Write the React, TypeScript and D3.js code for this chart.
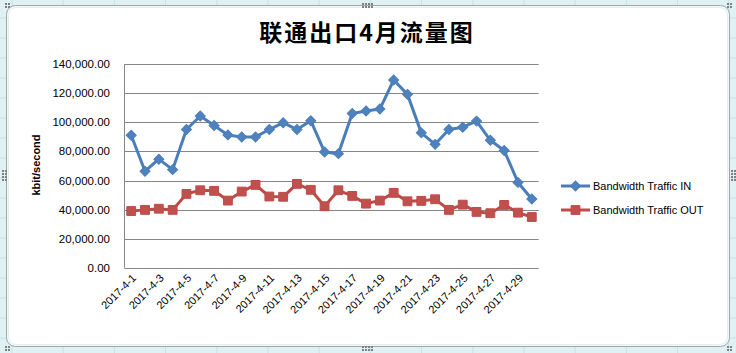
import React from "react";
import * as d3 from "d3";

const days: string[] = Array.from({ length: 30 }, (_, i) => `2017-4-${i + 1}`);
const trafficIn: number[] = [
  91200, 66400, 74700, 67500, 95100, 104400, 97900, 91400, 90000, 90000,
  95100, 99800, 95100, 101200, 79600, 78500, 106200, 107800, 109200, 129200,
  119300, 92800, 84900, 95100, 96700, 100900, 87700, 80700, 58700, 47300,
];
const trafficOut: number[] = [
  39000, 39800, 40600, 39800, 50800, 53300, 52900, 46200, 52400, 57000,
  49000, 48800, 57700, 53600, 42300, 53300, 49400, 44100, 46200, 51500,
  45700, 46000, 47100, 39800, 43400, 38400, 37500, 43200, 37900, 34900,
];
const yTicks: number[] = [0, 20000, 40000, 60000, 80000, 100000, 120000, 140000];
const seriesNames: string[] = ["Bandwidth Traffic IN", "Bandwidth Traffic OUT"];
const title = "联通出口4月流量图";
const yTitle = "kbit/second";

const W = 736;
const H = 353;
const blue = "#4A7EBB";
const blueFill = "#4F81BD";
const red = "#BE4B48";
const redFill = "#C0504D";
const font = "'Liberation Sans', Arial, sans-serif";

export default function App() {
  const x = d3.scaleBand<string>().domain(days).range([124.3, 538.7]);
  const y = d3.scaleLinear().domain([0, 140000]).range([267.7, 64.3]);
  const cx = (d: string) => (x(d) as number) + x.bandwidth() / 2;
  const line = d3
    .line<number>()
    .x((_, i) => cx(days[i]))
    .y((v) => y(v));
  const fmt = d3.format(",.2f");
  const diamond = d3.symbol().type(d3.symbolSquare).size(50)();
  const square = d3.symbol().type(d3.symbolSquare).size(78)();
  const labelDays = days.filter((_, i) => i % 2 === 0);

  // spreadsheet cell lines outside chart
  const colLines = d3.range(12, 736, 51.2);
  const rowLines = d3.range(18, 353, 20);

  const dots = (x0: number, y0: number, cols: number, rows: number) => {
    const r: JSX.Element[] = [];
    for (let i = 0; i < cols; i++)
      for (let j = 0; j < rows; j++)
        r.push(
          <rect key={`${x0}-${y0}-${i}-${j}`} x={x0 + i * 3} y={y0 + j * 3} width={2} height={2} fill="#7f7f7f" />
        );
    return r;
  };

  return (
    <svg width={W} height={H} style={{ position: "absolute", left: 0, top: 0 }}>
      <rect x={0} y={0} width={W} height={H} fill="#dff1f3" />
      {colLines.map((c, i) => (
        <line key={`c${i}`} x1={c} x2={c} y1={0} y2={H} stroke="#c4e2e6" strokeWidth={1} />
      ))}
      {rowLines.map((r, i) => (
        <line key={`r${i}`} x1={0} x2={W} y1={r} y2={r} stroke="#c4e2e6" strokeWidth={1} />
      ))}
      <rect x={6.5} y={5.5} width={723} height={341} rx={9} fill="#f2f9fa" stroke="#9fa7a8" strokeWidth={1} />
      <rect x={8.5} y={7.5} width={719} height={337} rx={8} fill="#ffffff" stroke="#e6eeee" strokeWidth={1} />
      {dots(5, 3, 2, 2)}
      {dots(727, 3, 2, 2)}
      {dots(5, 346, 2, 2)}
      {dots(727, 346, 2, 2)}
      {dots(362, 3, 4, 2)}
      {dots(362, 346, 4, 2)}
      {dots(2, 170, 2, 4)}
      {dots(731, 170, 2, 4)}

      <text x={367} y={41} textAnchor="middle" fontFamily="'Noto Sans CJK SC', sans-serif" fontWeight="bold" fontSize={23} letterSpacing={2} fill="#000">
        {title}
      </text>

      {yTicks.map((t) => (
        <g key={t}>
          <line x1={124.3} x2={538.7} y1={Math.round(y(t)) + 0.5} y2={Math.round(y(t)) + 0.5} stroke="#868686" strokeWidth={1} />
          <text x={110} y={y(t)} dy="0.35em" textAnchor="end" fontFamily={font} fontSize={11.5} fill="#000">
            {fmt(t)}
          </text>
        </g>
      ))}
      <line x1={124.5} x2={124.5} y1={y(140000)} y2={y(0)} stroke="#868686" strokeWidth={1} />

      <text transform={`translate(40,${165}) rotate(-90)`} textAnchor="middle" fontFamily={font} fontWeight="bold" fontSize={11} fill="#000">
        {yTitle}
      </text>

      {labelDays.map((d) => (
        <text
          key={d}
          transform={`translate(${cx(d) + 3},${276}) rotate(-45)`}
          textAnchor="end"
          dy="0.35em"
          fontFamily={font}
          fontSize={11}
          fill="#000"
        >
          {d}
        </text>
      ))}

      <path d={line(trafficIn) || ""} fill="none" stroke={blue} strokeWidth={3} strokeLinejoin="round" />
      {trafficIn.map((v, i) => (
        <path key={`i${i}`} d={diamond} transform={`translate(${cx(days[i])},${y(v)}) rotate(45)`} fill={blueFill} stroke={blue} strokeWidth={1} />
      ))}
      <path d={line(trafficOut) || ""} fill="none" stroke={red} strokeWidth={3} strokeLinejoin="round" />
      {trafficOut.map((v, i) => (
        <path key={`o${i}`} d={square} transform={`translate(${cx(days[i])},${y(v)})`} fill={redFill} stroke={red} strokeWidth={1} />
      ))}

      {seriesNames.map((n, i) => {
        const ly = 186 + i * 24;
        return (
          <g key={n}>
            <line x1={561} x2={590} y1={ly} y2={ly} stroke={i === 0 ? blue : red} strokeWidth={3} />
            {i === 0 ? (
              <path d={diamond} transform={`translate(575.5,${ly}) rotate(45)`} fill={blueFill} stroke={blue} />
            ) : (
              <path d={square} transform={`translate(575.5,${ly})`} fill={redFill} stroke={red} />
            )}
            <text x={593} y={ly} dy="0.35em" fontFamily={font} fontSize={11} fill="#000">
              {n}
            </text>
          </g>
        );
      })}
    </svg>
  );
}
